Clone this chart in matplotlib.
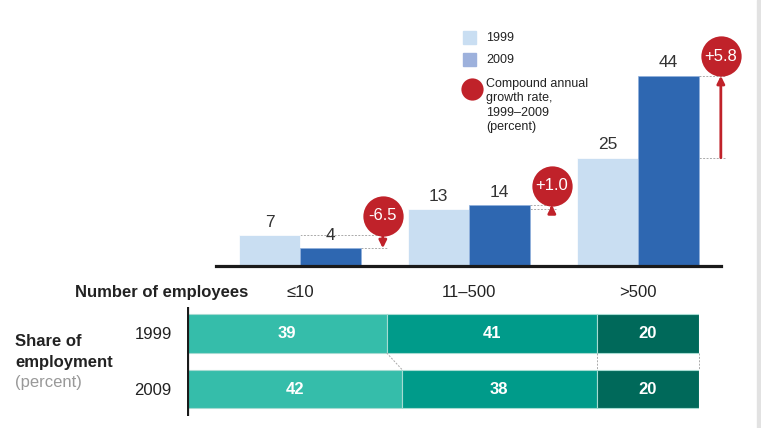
import matplotlib
matplotlib.use("Agg")
import matplotlib.pyplot as plt
from matplotlib.patches import Rectangle
from matplotlib.lines import Line2D
import numpy as np

plt.rcParams['font.family'] = ['Liberation Sans', 'DejaVu Sans']

# data
groups = ["≤10", "11–500", ">500"]
jobs_1999 = [7, 13, 25]
jobs_2009 = [4, 14, 44]
cagr = ["-6.5", "+1.0", "+5.8"]

rows = ["1999", "2009"]
share_1999 = [39, 41, 20]
share_2009 = [42, 38, 20]

c_light = "#C9DEF2"
c_dark = "#2E67B1"
c_legend_dark = "#9DB1DC"
c_red = "#C0222A"
c_teal = ["#35BDAA", "#009B8A", "#00695A"]

W, H = 761, 428
fig = plt.figure(figsize=(W / 100, H / 100), dpi=100)
fig.patch.set_facecolor("white")


def box(x0, y0, x1, y1):
    # pixel box (top-left origin) -> figure fraction
    return [x0 / W, 1 - y1 / H, (x1 - x0) / W, (y1 - y0) / H]


# ---- top bar chart ----
ax = fig.add_axes(box(216, 15, 721, 265.5))
x = np.arange(len(groups))
bw = 0.36
ax.bar(x - bw / 2, jobs_1999, bw, color=c_light, edgecolor="white", lw=0.5, zorder=2)
ax.bar(x + bw / 2, jobs_2009, bw, color=c_dark, edgecolor="#8FB0DC", lw=0.5, zorder=2)
ax.set_xlim(-0.497, 2.491)
ax.set_ylim(0, 58.1)
ax.axhline(0, color="#1a1a1a", lw=2.3, zorder=5, clip_on=False)

for i in range(len(groups)):
    ax.text(x[i] - bw / 2, jobs_1999[i] + 1.3, str(jobs_1999[i]), ha="center",
            va="bottom", fontsize=12.5, color="#333333")
    ax.text(x[i] + bw / 2, jobs_2009[i] + 1.3, str(jobs_2009[i]), ha="center",
            va="bottom", fontsize=12.5, color="#333333")
    mx = x[i] + 0.49
    ax.hlines(jobs_1999[i], x[i], mx + 0.03, colors="#aaaaaa", lw=0.7,
              linestyles=(0, (2, 1.5)), zorder=1, clip_on=False)
    ax.hlines(jobs_2009[i], x[i] + bw, mx + 0.03, colors="#aaaaaa", lw=0.7,
              linestyles=(0, (2, 1.5)), zorder=1, clip_on=False)
    ax.annotate("", xy=(mx, jobs_2009[i]), xytext=(mx, jobs_1999[i]),
                arrowprops=dict(arrowstyle="-|>", color=c_red, lw=2,
                                mutation_scale=11, shrinkA=0, shrinkB=0),
                zorder=3, annotation_clip=False)
    cy = max(jobs_1999[i], jobs_2009[i]) + 4.5
    ax.plot(mx, cy, "o", ms=29, color=c_red, mec="none", zorder=4, clip_on=False)
    ax.text(mx, cy, cagr[i], ha="center", va="center", color="white",
            fontsize=12, zorder=5)

ax.set_xticks(x)
ax.set_xticklabels(groups, fontsize=12, color="#222222")
ax.tick_params(axis="x", length=0, pad=14)
ax.set_yticks([])
for s in ax.spines.values():
    s.set_visible(False)
ax.patch.set_alpha(0)

# legend
fig.patches.append(Rectangle((463 / W, 1 - 44 / H), 13 / W, 13 / H,
                             transform=fig.transFigure, color=c_light))
fig.patches.append(Rectangle((463 / W, 1 - 66 / H), 13 / W, 13 / H,
                             transform=fig.transFigure, color=c_legend_dark))
fig.text(486 / W, 1 - 38 / H, "1999", fontsize=9, va="center", color="#222222")
fig.text(486 / W, 1 - 60 / H, "2009", fontsize=9, va="center", color="#222222")
fig.add_artist(Line2D([472 / W], [1 - 89 / H], marker="o", ms=16, color=c_red,
                      mec="none", transform=fig.transFigure))
fig.text(486 / W, 1 - 78 / H, "Compound annual\ngrowth rate,\n1999–2009\n(percent)",
         fontsize=9, va="top", color="#222222", linespacing=1.25)

fig.text(75 / W, 1 - 292 / H, "Number of employees", fontsize=12,
         fontweight="bold", va="center", color="#222222")

# ---- bottom stacked share bars ----
bx = fig.add_axes(box(187, 307, 699, 416))
shares = [share_1999, share_2009]
bh = 0.70
for r, vals in enumerate(shares):
    left = 0
    for j, v in enumerate(vals):
        bx.barh(r, v, bh, left=left, color=c_teal[j], edgecolor="#A6DBD2", lw=0.8)
        bx.text(left + v / 2, r, str(v), ha="center", va="center", color="white",
                fontsize=12, fontweight="bold")
        left += v
c0 = np.cumsum(share_1999)
c1 = np.cumsum(share_2009)
for a, b in zip(c0, c1):
    bx.plot([a, b], [bh / 2, 1 - bh / 2], color="#aaaaaa", lw=0.7,
            ls=(0, (2, 1.5)), clip_on=False)
bx.set_xlim(0, 100)
bx.set_ylim(1.486, -0.477)
bx.axvline(0, color="#1a1a1a", lw=2.3, zorder=5)
bx.set_yticks([0, 1])
bx.set_yticklabels(rows, fontsize=12, color="#222222")
bx.tick_params(axis="y", length=0, pad=11)
bx.set_xticks([])
for s in bx.spines.values():
    s.set_visible(False)

fig.text(15 / W, 1 - 342 / H, "Share of", fontsize=12, fontweight="bold",
         va="center", color="#222222")
fig.text(15 / W, 1 - 363 / H, "employment", fontsize=12, fontweight="bold",
         va="center", color="#222222")
fig.text(15 / W, 1 - 383 / H, "(percent)", fontsize=12, va="center",
         color="#999999")

# faint frame on the right edge
fig.patches.append(Rectangle((757 / W, 0), 4 / W, 1, transform=fig.transFigure,
                             color="#E2E2E2"))

fig.savefig("out.png", dpi=100)
